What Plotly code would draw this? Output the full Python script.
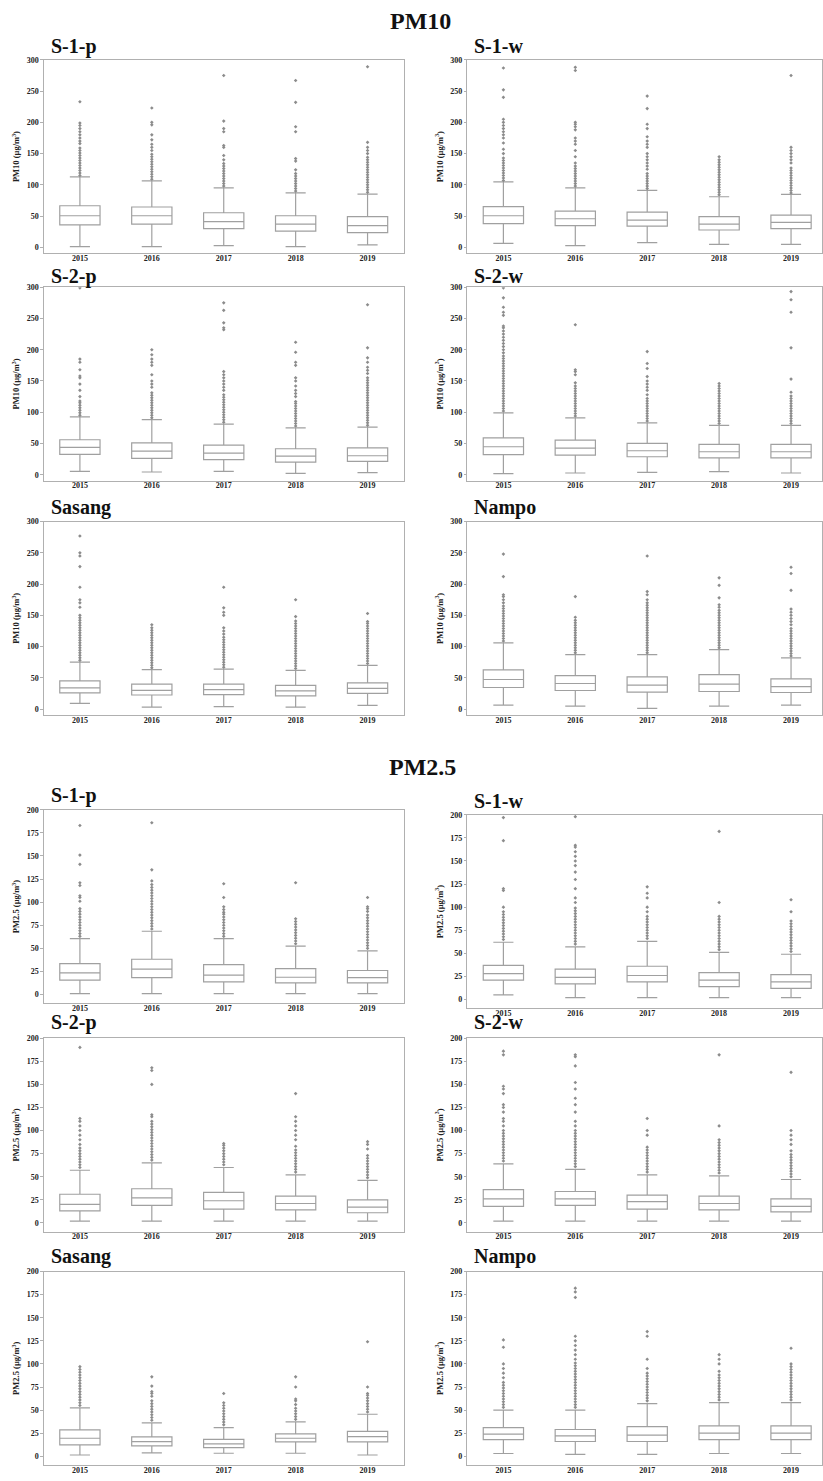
import plotly.graph_objects as go

W, H = 823, 1481
FONT = "Liberation Serif"
BOX_LINE = "#a0a0a0"
FLIER = "#8c8c8c"
FRAME = "#b0b0b0"

YEARS = ["2015", "2016", "2017", "2018", "2019"]
PM10_TICKS = [0, 50, 100, 150, 200, 250, 300]
PM25_TICKS = [0, 25, 50, 75, 100, 125, 150, 175, 200]

# ---------------- PM10 ----------------
PM10_S1P = dict(
    lo=[1, 1, 2.7, 1, 4], q1=[36, 37, 29.8, 26, 23.4], med=[50.5, 50.5, 41, 37, 34.6],
    q3=[66.5, 64.5, 55.3, 50.5, 49], hi=[112.8, 106.4, 95, 87, 85],
    out=[[115, 119, 123, 127, 131, 135, 139, 143, 147, 151, 155, 159, 166, 170, 175, 180, 185, 190, 195, 199, 233],
         [109, 113, 117, 121, 125, 129, 133, 137, 141, 145, 149, 155, 160, 165, 172, 180, 196, 200, 223],
         [98, 102, 106, 110, 114, 118, 122, 126, 130, 134, 140, 147, 160, 163, 185, 190, 202, 275],
         [90, 94, 98, 102, 106, 110, 114, 118, 124, 138, 142, 185, 193, 232, 267],
         [88, 92, 96, 100, 104, 108, 112, 116, 120, 124, 128, 132, 136, 140, 144, 150, 155, 160, 168, 289]])
PM10_S1W = dict(
    lo=[6.4, 2.7, 7.4, 4.8, 4.8], q1=[37.8, 34.6, 34, 27.7, 29.8], med=[50.5, 45.7, 43.6, 37, 40],
    q3=[65, 58, 56.4, 49, 51.6], hi=[104.8, 95, 91, 80.9, 84.6],
    out=[[107, 111, 115, 119, 123, 127, 131, 135, 139, 143, 150, 157, 167, 175, 180, 185, 190, 195, 200, 205, 240, 252, 287],
         [98, 102, 106, 110, 114, 118, 122, 126, 130, 135, 145, 155, 165, 170, 175, 188, 193, 197, 200, 283, 288],
         [94, 98, 102, 106, 110, 114, 118, 125, 130, 135, 140, 145, 150, 160, 165, 170, 177, 190, 197, 222, 242],
         [84, 88, 92, 96, 100, 104, 108, 112, 116, 120, 124, 128, 132, 136, 140, 145],
         [87, 91, 95, 99, 103, 107, 111, 115, 119, 123, 127, 135, 140, 145, 150, 155, 160, 275]])
PM10_S2P = dict(
    lo=[5.3, 4.3, 5.3, 2.1, 3.2], q1=[32.4, 26, 24, 20.2, 21.3], med=[43.6, 37.8, 34.6, 29.8, 30.3],
    q3=[55.9, 51, 47.3, 41.5, 43], hi=[92.6, 88.3, 80.9, 75, 76],
    out=[[95, 99, 103, 107, 111, 115, 118, 125, 135, 145, 155, 158, 168, 180, 185, 299],
         [91, 95, 99, 103, 107, 111, 115, 119, 123, 127, 131, 140, 145, 150, 160, 175, 180, 185, 192, 200],
         [84, 88, 92, 96, 100, 104, 108, 112, 116, 120, 124, 128, 135, 140, 145, 150, 155, 160, 165, 232, 235, 243, 263, 275],
         [78, 82, 86, 90, 94, 98, 102, 106, 110, 114, 117, 125, 130, 135, 142, 150, 155, 175, 180, 196, 212],
         [79, 83, 87, 91, 95, 99, 103, 107, 111, 115, 119, 123, 127, 131, 135, 139, 143, 147, 151, 155, 162, 167, 172, 180, 187, 203, 272]])
PM10_S2W = dict(
    lo=[1.6, 2.7, 3.7, 4.8, 2.7], q1=[32, 31.4, 28.7, 27, 27], med=[44.7, 42.6, 38.3, 36.7, 36.7],
    q3=[59, 55.3, 50, 48.4, 48.4], hi=[99, 91, 83, 79, 79],
    out=[[102, 106, 110, 114, 118, 122, 126, 130, 134, 138, 142, 146, 150, 154, 158, 162, 166, 170, 174, 178, 182, 186,
          190, 195, 200, 205, 210, 215, 220, 225, 230, 235, 238, 255, 260, 268, 283, 299],
         [94, 98, 102, 106, 110, 114, 118, 122, 126, 130, 134, 138, 142, 147, 160, 165, 168, 240],
         [86, 90, 94, 98, 102, 106, 110, 114, 118, 122, 128, 135, 140, 145, 150, 157, 170, 178, 197],
         [82, 86, 90, 94, 98, 102, 106, 110, 114, 118, 122, 126, 130, 134, 138, 142, 146],
         [82, 86, 90, 94, 98, 102, 106, 110, 114, 118, 122, 126, 132, 153, 203, 260, 280, 293]])
PM10_SAS = dict(
    lo=[9, 3, 4, 3, 6], q1=[26, 22.5, 23, 21, 25], med=[34, 30, 31, 29, 33],
    q3=[45, 40, 40, 38, 42], hi=[75, 63, 64, 62, 70],
    out=[[78, 82, 86, 90, 94, 98, 102, 106, 110, 114, 118, 122, 126, 130, 134, 138, 142, 146, 150, 163, 170, 175, 195, 228, 245, 250, 277],
         [66, 70, 74, 78, 82, 86, 90, 94, 98, 102, 106, 110, 114, 118, 122, 126, 130, 135],
         [67, 71, 75, 79, 83, 87, 91, 95, 99, 103, 107, 111, 115, 120, 125, 130, 150, 155, 162, 195],
         [65, 69, 73, 77, 81, 85, 89, 93, 97, 101, 105, 109, 113, 117, 121, 125, 129, 133, 137, 141, 148, 175],
         [73, 77, 81, 85, 89, 93, 97, 101, 105, 109, 113, 117, 121, 125, 129, 133, 137, 140, 153]])
PM10_NAM = dict(
    lo=[6.4, 4.8, 1, 4.8, 6.4], q1=[34.5, 29.7, 27, 28.1, 26.5], med=[47.3, 40.9, 38.2, 39.8, 36],
    q3=[62.7, 53.6, 51.5, 55.2, 48.3], hi=[106, 87, 87, 95, 81.8],
    out=[[109, 113, 117, 121, 125, 129, 133, 137, 141, 145, 149, 153, 157, 161, 165, 170, 175, 180, 183, 212, 248],
         [90, 94, 98, 102, 106, 110, 114, 118, 122, 126, 130, 134, 138, 142, 147, 180],
         [90, 94, 98, 102, 106, 110, 114, 118, 122, 126, 130, 134, 138, 142, 146, 150, 154, 158, 162, 166, 170, 175, 183, 188, 245],
         [98, 102, 106, 110, 114, 118, 122, 126, 130, 134, 138, 142, 146, 150, 154, 158, 163, 167, 178, 198, 210],
         [85, 89, 93, 97, 101, 105, 109, 113, 117, 121, 125, 129, 135, 140, 145, 150, 155, 160, 190, 217, 227]])

# ---------------- PM2.5 ----------------
PM25_S1P = dict(
    lo=[1, 1, 1, 1, 1], q1=[15.5, 18.4, 13.7, 12.6, 12.6], med=[23.4, 27.4, 20.9, 18.7, 18.4],
    q3=[33.5, 38.2, 32.4, 28.1, 26], hi=[60.5, 68.5, 60.5, 52.3, 47.2],
    out=[[63, 66, 69, 72, 75, 78, 81, 84, 87, 90, 93, 101, 105, 107, 118, 121, 141, 151, 183],
         [71, 74, 77, 80, 83, 86, 89, 92, 95, 98, 101, 104, 107, 110, 113, 116, 119, 123, 135, 186],
         [63, 66, 69, 72, 75, 78, 81, 84, 87, 89, 92, 95, 105, 120],
         [55, 58, 61, 64, 67, 70, 73, 76, 79, 82, 121],
         [50, 53, 56, 59, 62, 65, 68, 71, 74, 77, 80, 83, 86, 90, 93, 95, 105]])
PM25_S1W = dict(
    lo=[5, 2, 2, 2, 2], q1=[21, 17, 19, 14, 12], med=[28, 24, 26, 21, 19],
    q3=[37, 33, 36, 29, 27], hi=[62, 57, 63, 51, 49],
    out=[[65, 68, 71, 74, 77, 80, 83, 86, 89, 92, 95, 100, 118, 120, 172, 197],
         [60, 63, 66, 69, 72, 75, 78, 81, 84, 87, 90, 93, 96, 99, 105, 110, 120, 130, 138, 145, 150, 155, 160, 165, 167, 198],
         [66, 69, 72, 75, 78, 81, 84, 87, 90, 95, 100, 110, 115, 122],
         [54, 57, 60, 63, 66, 69, 72, 75, 78, 81, 84, 87, 90, 105, 182],
         [52, 55, 58, 61, 64, 67, 70, 73, 76, 79, 82, 85, 95, 108]])
PM25_S2P = dict(
    lo=[2, 2, 2, 2, 2], q1=[13, 19, 15, 14, 11], med=[20, 27, 24, 21, 17],
    q3=[31, 37, 33, 29, 25], hi=[57, 65, 60, 52, 46],
    out=[[60, 63, 66, 69, 72, 75, 78, 81, 85, 90, 95, 100, 105, 110, 113, 190],
         [68, 71, 74, 77, 80, 83, 86, 89, 92, 95, 98, 101, 104, 107, 110, 115, 117, 150, 165, 168],
         [63, 66, 69, 72, 75, 78, 81, 84, 86],
         [55, 58, 61, 64, 67, 70, 73, 76, 79, 83, 90, 95, 100, 105, 110, 115, 140],
         [49, 52, 55, 58, 61, 64, 67, 70, 73, 80, 85, 88]])
PM25_S2W = dict(
    lo=[2, 2, 2, 2, 2], q1=[18, 19, 15, 14, 12], med=[26, 26, 23, 21, 18],
    q3=[36, 34, 30, 29, 26], hi=[64, 58, 52, 51, 47],
    out=[[67, 70, 73, 76, 79, 82, 85, 88, 91, 94, 97, 100, 105, 110, 113, 120, 125, 128, 140, 145, 148, 182, 186],
         [61, 64, 67, 70, 73, 76, 79, 82, 85, 88, 91, 94, 97, 100, 105, 110, 120, 128, 135, 145, 152, 170, 180, 182],
         [55, 58, 61, 64, 67, 70, 73, 76, 79, 82, 95, 100, 113],
         [54, 57, 60, 63, 66, 69, 72, 75, 78, 81, 84, 87, 90, 105, 182],
         [50, 53, 56, 59, 62, 65, 68, 71, 74, 78, 85, 90, 95, 100, 163]])
PM25_SAS = dict(
    lo=[1.4, 3.6, 3.3, 3.3, 1.4], q1=[12.3, 11.2, 9.4, 15.5, 15.5], med=[19.5, 15.9, 13.4, 19.5, 21.3],
    q3=[28.5, 21, 18.4, 24.2, 27], hi=[52.4, 36.1, 31, 37.2, 45.5],
    out=[[55, 58, 61, 64, 67, 70, 73, 76, 79, 82, 85, 88, 91, 94, 97],
         [39, 42, 45, 48, 51, 54, 57, 60, 65, 68, 70, 76, 86],
         [34, 37, 40, 43, 46, 49, 52, 55, 58, 68],
         [40, 43, 46, 49, 52, 56, 60, 62, 75, 86],
         [48, 51, 54, 57, 60, 63, 66, 68, 75, 124]])
PM25_NAM = dict(
    lo=[3, 2, 2, 3, 3], q1=[18, 16, 16, 18, 18], med=[24, 22, 23, 25, 25],
    q3=[31, 29, 32, 33, 33], hi=[50, 50, 57, 58, 58],
    out=[[53, 56, 59, 62, 65, 68, 71, 74, 77, 80, 85, 90, 95, 100, 118, 126],
         [53, 56, 59, 62, 65, 68, 71, 74, 77, 80, 83, 86, 89, 92, 95, 98, 101, 105, 110, 115, 120, 125, 130, 172, 178, 182],
         [60, 63, 66, 69, 72, 75, 78, 81, 84, 87, 90, 95, 105, 130, 135],
         [61, 64, 67, 70, 73, 76, 79, 82, 85, 88, 92, 100, 105, 110],
         [61, 64, 67, 70, 73, 76, 79, 82, 85, 88, 91, 94, 97, 100, 117]])

# layout: (data, title, left_px, top_px, title_center_y, pollutant)
LEFT, RIGHT = 44, 468
PH = 194
SPACING = 72
panels = [
    (PM10_S1P, "S-1-p", LEFT, 56, 42.5, "PM10"),
    (PM10_S1W, "S-1-w", RIGHT, 56, 42.5, "PM10"),
    (PM10_S2P, "S-2-p", LEFT, 284, 273, "PM10"),
    (PM10_S2W, "S-2-w", RIGHT, 284, 273, "PM10"),
    (PM10_SAS, "Sasang", LEFT, 519, 505, "PM10"),
    (PM10_NAM, "Nampo", RIGHT, 519, 505, "PM10"),
    (PM25_S1P, "S-1-p", LEFT, 808, 794, "PM2.5"),
    (PM25_S1W, "S-1-w", RIGHT, 813, 799, "PM2.5"),
    (PM25_S2P, "S-2-p", LEFT, 1037, 1021, "PM2.5"),
    (PM25_S2W, "S-2-w", RIGHT, 1037, 1021, "PM2.5"),
    (PM25_SAS, "Sasang", LEFT, 1271, 1256, "PM2.5"),
    (PM25_NAM, "Nampo", RIGHT, 1271, 1256, "PM2.5"),
]

fig = go.Figure()
annotations = []
layout = dict(width=W, height=H, margin=dict(l=0, r=0, t=0, b=0),
              paper_bgcolor="white", plot_bgcolor="white", showlegend=False,
              boxgap=0.2, font=dict(family=FONT, color="#222222"))

for i, (d, title, left, top, ty, pol) in enumerate(panels, start=1):
    xa = "x" if i == 1 else f"x{i}"
    ya = "y" if i == 1 else f"y{i}"
    right_px = left + 5 * SPACING
    x_dom = [left / W, min(right_px, W) / W]
    x_rng = [-0.5, -0.5 + (min(right_px, W) - left) / SPACING]
    y_dom = [1 - (top + PH) / H, 1 - top / H]
    if pol == "PM10":
        y_rng, yticks, ylab = [-9.6, 300], PM10_TICKS, "PM10 (µg/m<sup>3</sup>)"
    else:
        y_rng, yticks, ylab = [-9.5, 200], PM25_TICKS, "PM2.5 (µg/m<sup>3</sup>)"

    fig.add_trace(go.Box(
        x=YEARS, q1=d["q1"], median=d["med"], q3=d["q3"],
        lowerfence=d["lo"], upperfence=d["hi"],
        fillcolor="white", line=dict(color=BOX_LINE, width=1.2),
        whiskerwidth=0.5, boxpoints=False, hoverinfo="skip",
        xaxis=xa, yaxis=ya, showlegend=False))
    ox, oy = [], []
    for yr, vals in zip(YEARS, d["out"]):
        for v in vals:
            ox.append(yr)
            oy.append(v)
    fig.add_trace(go.Scatter(
        x=ox, y=oy, mode="markers", hoverinfo="skip",
        marker=dict(symbol="diamond", size=2.8, color=FLIER, line=dict(width=0)),
        xaxis=xa, yaxis=ya, showlegend=False))

    base = dict(showline=True, mirror=True, linecolor=FRAME, linewidth=1.3,
                showgrid=False, zeroline=False)
    layout["xaxis" if i == 1 else f"xaxis{i}"] = dict(
        domain=x_dom, range=x_rng, type="category", categoryorder="array",
        categoryarray=YEARS, anchor=ya, ticks="", ticklabelstandoff=-3,
        tickfont=dict(family=FONT, size=8, weight="bold", color="#222222"),
        **base)
    layout["yaxis" if i == 1 else f"yaxis{i}"] = dict(
        domain=y_dom, range=y_rng, tickvals=yticks, anchor=xa,
        ticks="outside", ticklen=2.5, tickcolor=FRAME, tickwidth=1,
        tickfont=dict(family=FONT, size=8, weight="bold", color="#222222"),
        title=dict(text=ylab, standoff=5,
                   font=dict(family=FONT, size=8.5, weight="bold", color="#222222")),
        **base)

    # panel title
    annotations.append(dict(text=title, x=(left + 5) / W, y=1 - ty / H, xref="paper", yref="paper",
                            xanchor="left", yanchor="middle", showarrow=False,
                            font=dict(family=FONT, size=20, weight="bold", color="#111111")))
    # x-axis title "year"
    annotations.append(dict(text="year", x="2017", y=1 - (top + PH + 14) / H, xref=xa, yref="paper",
                            xanchor="center", yanchor="middle", showarrow=False,
                            font=dict(family=FONT, size=9, weight="bold", color="#222222")))

annotations.append(dict(text="PM10", x=421 / W, y=1 - 17 / H, xref="paper", yref="paper",
                        xanchor="center", yanchor="middle", showarrow=False,
                        font=dict(family=FONT, size=24, weight="bold", color="#111111")))
annotations.append(dict(text="PM2.5", x=423 / W, y=1 - 765 / H, xref="paper", yref="paper",
                        xanchor="center", yanchor="middle", showarrow=False,
                        font=dict(family=FONT, size=24, weight="bold", color="#111111")))
layout["annotations"] = annotations
fig.update_layout(**layout)

fig.write_html("out.html", config={"displayModeBar": False},
               post_script="document.body.style.margin='0';document.body.style.overflow='hidden';")
